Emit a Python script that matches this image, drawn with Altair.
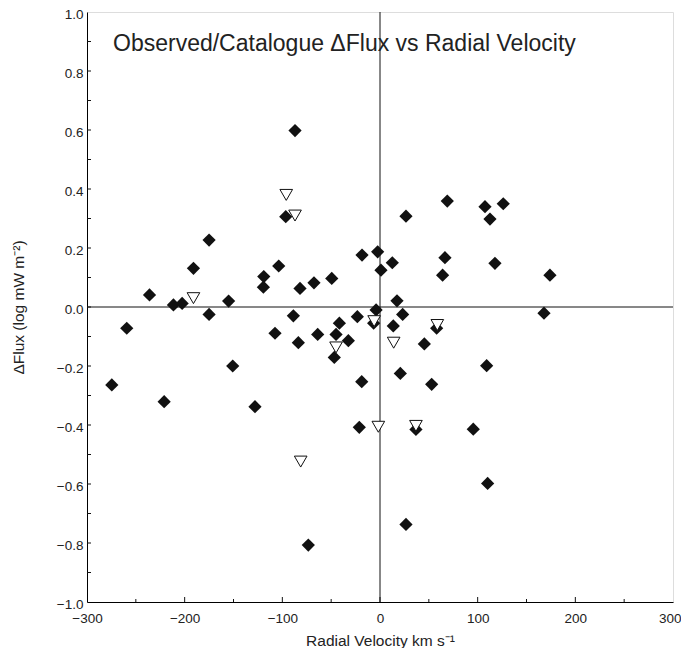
import altair as alt
import pandas as pd

# Filled diamonds (detections)
det_v = [-274.6, -259.3, -236.0, -221.0, -211.5, -202.6, -191.0, -175.0, -175.0, -155.0,
         -150.8, -128.0, -119.0, -119.4, -107.5, -103.7, -96.5, -88.7, -87.0, -83.6,
         -81.9, -73.4, -67.6, -63.8, -49.4, -46.8, -45.0, -41.6, -32.4, -23.2,
         -21.2, -18.7, -18.4, -6.5, -4.0, -2.4, 1.0, 12.6, 13.6, 17.4,
         20.8, 23.2, 26.6, 26.6, 36.8, 45.4, 52.9, 58.0, 64.1, 66.5,
         68.9, 95.5, 107.5, 109.2, 110.2, 112.6, 117.7, 126.2, 167.9, 174.0]
det_f = [-0.264, -0.072, 0.041, -0.321, 0.007, 0.012, 0.131, 0.227, -0.025, 0.020,
         -0.200, -0.338, 0.103, 0.067, -0.089, 0.139, 0.306, -0.030, 0.598, -0.121,
         0.063, -0.807, 0.082, -0.093, 0.097, -0.171, -0.093, -0.055, -0.114, -0.033,
         -0.408, -0.253, 0.176, -0.055, -0.010, 0.187, 0.125, 0.150, -0.064, 0.021,
         -0.225, -0.025, 0.308, -0.737, -0.415, -0.125, -0.262, -0.072, 0.108, 0.167,
         0.359, -0.414, 0.340, -0.199, -0.598, 0.298, 0.148, 0.350, -0.021, 0.108]

# Open down-triangles (limits)
lim_v = [-191.0, -96.0, -87.0, -45.0, -6.0, 14.0, 58.7, -1.7, 36.8, -81.2]
lim_f = [0.030, 0.380, 0.310, -0.137, -0.048, -0.121, -0.061, -0.406, -0.403, -0.524]

x_major = [-300, -200, -100, 0, 100, 200, 300]
x_minor = [-250, -150, -50, 50, 150, 250]
y_labels = [-1.0, -0.8, -0.6, -0.4, -0.2, 0.0, 0.2, 0.4, 0.6, 0.8, 1.0]
y_ticks = [-0.9, -0.8, -0.7, -0.6, -0.5, -0.4, -0.3, -0.2, -0.1, 0.0,
           0.1, 0.2, 0.3, 0.4, 0.5, 0.6, 0.7, 0.8, 0.9]

title_text = "Observed/Catalogue \u0394Flux vs Radial Velocity"
x_title = "Radial Velocity km s\u207b\u00b9"
y_title = "\u0394Flux (log mW m\u207b\u00b2)"

W, H = 586, 590
FONT = "Liberation Sans"

det = pd.DataFrame({"v": det_v, "f": det_f})
lim = pd.DataFrame({"v": lim_v, "f": lim_f})

xs = alt.Scale(domain=[-300, 300], nice=False, zero=False)
ys = alt.Scale(domain=[-1.0, 1.0], nice=False, zero=False)

x_axis = alt.Axis(values=x_major, format="d", ticks=False, grid=False, domainColor="black",
                  labelFont=FONT, labelFontSize=13.5, labelColor="#222", labelPadding=9,
                  labelAlign={"condition": {"test": "datum.value === 300", "value": "right"},
                              "value": "center"},
                  labelOffset={"condition": {"test": "datum.value === 300", "value": 8},
                               "value": 0},
                  titleFont=FONT, titleFontSize=15.5, titleFontWeight="normal", titleColor="#222",
                  titlePadding=9, labelFlush=False)
y_axis = alt.Axis(values=y_labels,
                  format=".1f", ticks=False, grid=False, domainColor="black",
                  labelFont=FONT, labelFontSize=13.5, labelColor="#222", labelPadding=4,
                  labelOffset=2,
                  titleFont=FONT, titleFontSize=15.5, titleFontWeight="normal", titleColor="#222",
                  titlePadding=30, labelFlush=False)

base_x = alt.X("v:Q", scale=xs, axis=x_axis, title=x_title)
base_y = alt.Y("f:Q", scale=ys, axis=y_axis, title=y_title)

diamonds = alt.Chart(det).mark_point(shape="diamond", filled=True, size=175,
                                     color="#111", opacity=1).encode(x=base_x, y=base_y)
triangles = alt.Chart(lim).mark_point(shape="triangle-down", filled=True, size=160,
                                      fill="white", stroke="#111", strokeWidth=1,
                                      opacity=1).encode(
    x=alt.X("v:Q", scale=xs), y=alt.Y("f:Q", scale=ys))

zero_h = alt.Chart(pd.DataFrame({"f": [0.0]})).mark_rule(color="#111", strokeWidth=1).encode(
    y=alt.Y("f:Q", scale=ys))
zero_v = alt.Chart(pd.DataFrame({"v": [0.0]})).mark_rule(color="#111", strokeWidth=1).encode(
    x=alt.X("v:Q", scale=xs))

xmaj = alt.Chart(pd.DataFrame({"v": x_major[1:-1]})).mark_rule(color="#111").encode(
    x=alt.X("v:Q", scale=xs), y=alt.value(H), y2=alt.value(H - 5))
xmin = alt.Chart(pd.DataFrame({"v": x_minor})).mark_rule(color="#111").encode(
    x=alt.X("v:Q", scale=xs), y=alt.value(H), y2=alt.value(H - 3))
ytk = alt.Chart(pd.DataFrame({"f": y_ticks})).mark_rule(color="#111").encode(
    y=alt.Y("f:Q", scale=ys), x=alt.value(0), x2=alt.value(4))

title = alt.Chart(pd.DataFrame({"t": [title_text]})).mark_text(
    align="left", baseline="alphabetic", font=FONT, fontSize=23, color="#222").encode(
    text="t:N", x=alt.value(26), y=alt.value(39))

chart = alt.layer(zero_h, zero_v, xmaj, xmin, ytk, diamonds, triangles, title).properties(
    width=W, height=H,
    autosize=alt.AutoSizeParams(type="none"),
    padding={"left": 79, "top": 4, "right": 8, "bottom": 46},
).configure_view(stroke="#999", strokeWidth=1.5).configure(background="white")

chart.save("out.html", embed_options={"renderer": "svg", "actions": False})
